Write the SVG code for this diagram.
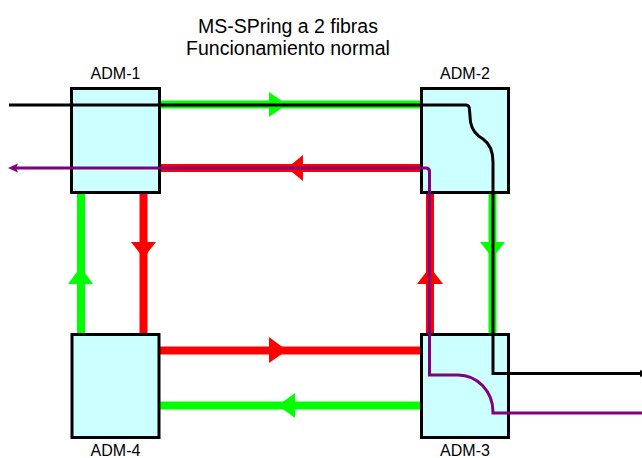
<svg xmlns="http://www.w3.org/2000/svg" width="642" height="458" viewBox="0 0 642 458">
<style>
.title{font-family:"Liberation Sans",Arial,sans-serif;font-size:19.5px;fill:#000;text-anchor:middle}
.lbl{font-family:"Liberation Sans",Arial,sans-serif;font-size:16px;fill:#000;text-anchor:middle}
.box{fill:#ccffff;stroke:#000;stroke-width:3}
.g{stroke:#00ff00;stroke-width:8;fill:none}
.r{stroke:#ff0000;stroke-width:8;fill:none}
.ga{fill:#00ff00}
.ra{fill:#ff0000}
.blk{stroke:#000;stroke-width:3;fill:none}
.pur{stroke:#800080;stroke-width:3;fill:none}
</style>
<rect width="642" height="458" fill="#fff"/>
<text class="title" x="288" y="33">MS-SPring a 2 fibras</text>
<text class="title" x="288" y="55">Funcionamiento normal</text>
<g id="rails">
<line class="g" x1="159" y1="104.5" x2="421" y2="104.5"/>
<polygon class="ga" points="269,92 287,104.5 269,117"/>
<line class="r" x1="159" y1="168" x2="421" y2="168"/>
<polygon class="ra" points="303,155 287,168 303,181"/>
<line class="g" x1="81" y1="193" x2="81" y2="334"/>
<polygon class="ga" points="68,284 80.5,267 93,284"/>
<line class="r" x1="143.5" y1="193" x2="143.5" y2="334"/>
<polygon class="ra" points="131,242 143.5,258 156,242"/>
<line class="g" x1="492.5" y1="193" x2="492.5" y2="334"/>
<polygon class="ga" points="480,242 492.5,258 505,242"/>
<line class="r" x1="430" y1="193" x2="430" y2="334"/>
<polygon class="ra" points="417,284 430,267 443,284"/>
<line class="r" x1="159" y1="350.5" x2="421" y2="350.5"/>
<polygon class="ra" points="269,337 287,350.5 269,363"/>
<line class="g" x1="159" y1="405.5" x2="421" y2="405.5"/>
<polygon class="ga" points="295,393 278,405.5 295,418"/>
</g>
<g id="ADM-1">
<rect class="box" x="71.5" y="88.5" width="88" height="104"/>
<text class="lbl" x="115.5" y="79">ADM-1</text>
</g>
<g id="ADM-2">
<rect class="box" x="421.5" y="88.5" width="87" height="104"/>
<text class="lbl" x="465" y="79">ADM-2</text>
</g>
<g id="ADM-3">
<rect class="box" x="421.5" y="334.5" width="87" height="103"/>
<text class="lbl" x="465" y="456">ADM-3</text>
</g>
<g id="ADM-4">
<rect class="box" x="72" y="334.5" width="87" height="103"/>
<text class="lbl" x="115.5" y="456">ADM-4</text>
</g>
<g id="connectors">
<path class="blk" d="M 9 105 H 466 Q 469.5 105 469.5 110 L 470.5 122 Q 472.5 133 483 139 Q 493 146 493 162 V 373.5 H 642"/>
<polygon points="640,370 648,373.5 640,377" fill="#000"/>
<path class="pur" d="M 16 168 H 426 Q 429.5 168 429.5 172 V 375 H 458 A 35 37 0 0 1 493 412 L 493 413 H 642"/>
<polygon points="8,168 18,163.5 16,168 18,172.5" fill="#800080"/>
</g>
</svg>
